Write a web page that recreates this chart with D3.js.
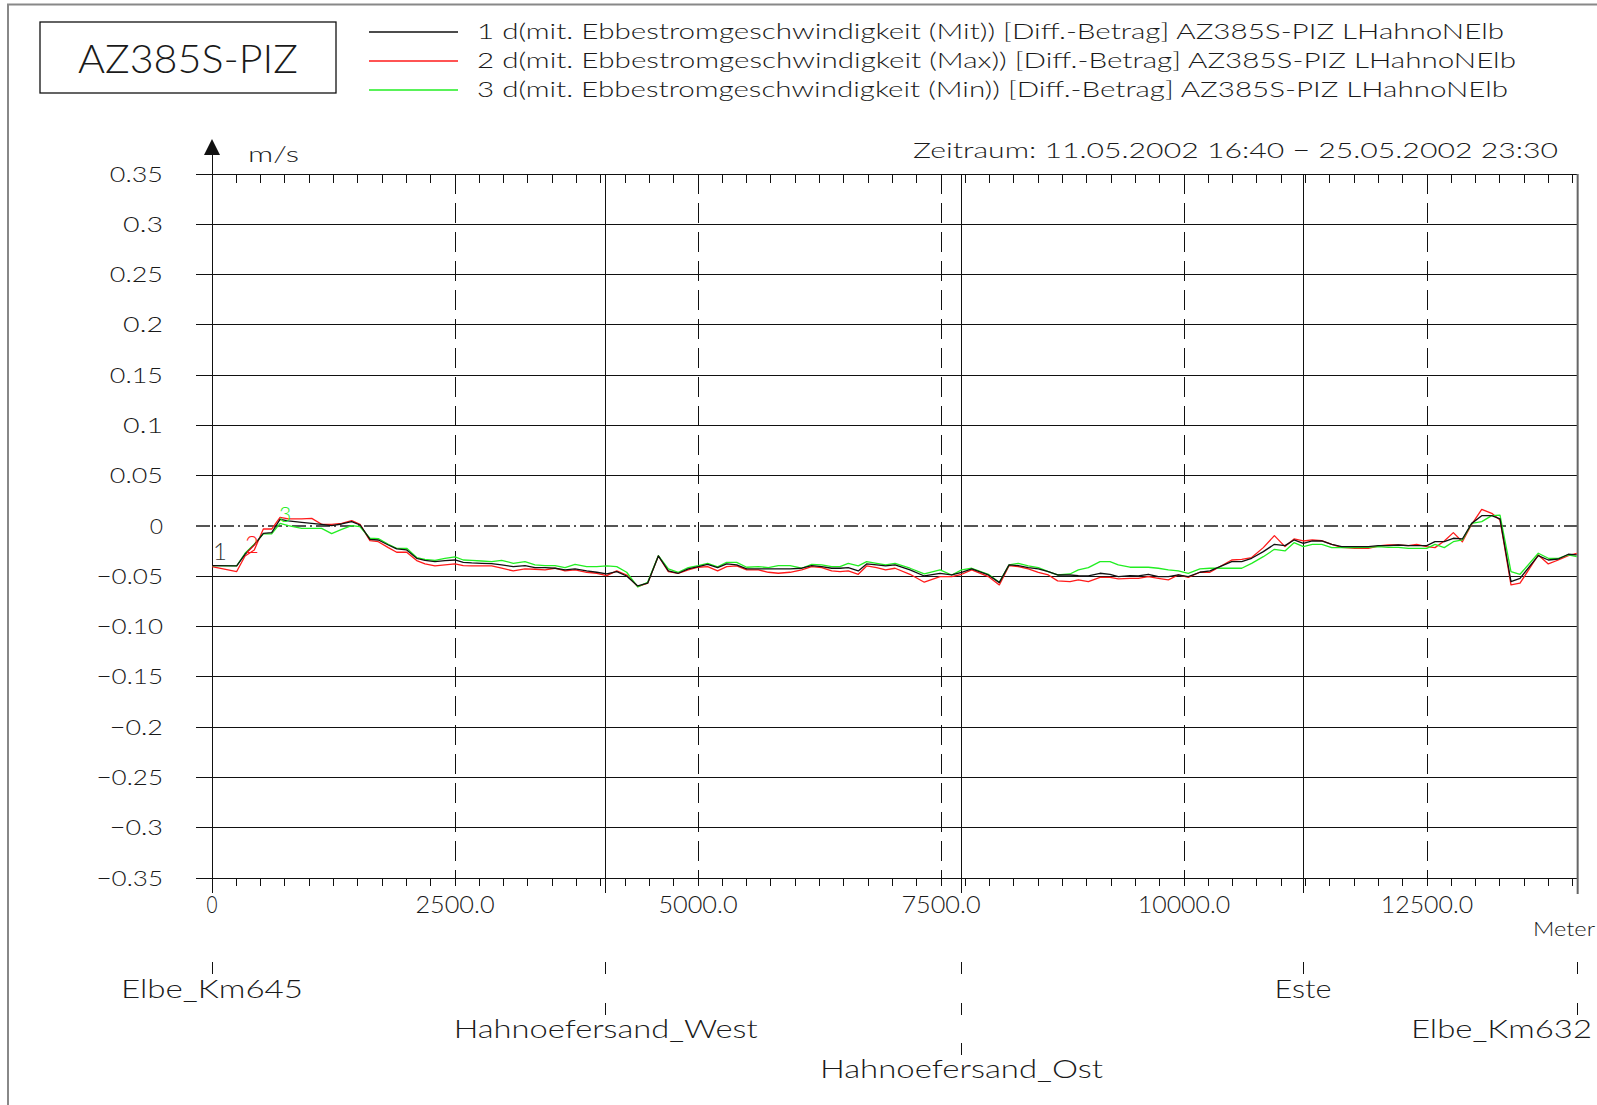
<!DOCTYPE html>
<html><head><meta charset="utf-8">
<script src="https://cdn.jsdelivr.net/npm/d3@7"></script>
<style>html,body{margin:0;padding:0;background:#fff;overflow:hidden}</style>
</head><body>
<svg id="c" width="1597" height="1105" xmlns="http://www.w3.org/2000/svg"></svg>
<script>
// ---------- data ----------
const distM = [0,254,340,435,528,614,700,785,923,1026,1128,1231,1334,1437,1523,1625,1711,1814,1900,2003,2106,2191,2294,2397,2500,2585,2672,2775,2877,2980,3100,3220,3323,
3426,3529,3632,3735,3855,3958,4061,4164,4266,4380,4482,4592,4695,4797,4900,5003,5099,5202,5295,5398,5501,5621,5724,5826,5947,6067,6170,6273,6375,6461,6546,6649,6735,6838,
6930,7027,7181,7328,7490,7610,7713,7816,7987,8100,8200,8295,8398,8501,8604,8700,8827,8913,9016,9136,9239,9324,9444,9530,9633,9736,9839,9941,10044,10164,10267,
10491,10594,10696,10816,10930,11039,11132,11228,11320,11417,11520,11622,11759,11896,11999,12102,12205,12308,12394,12497,12582,12678,12771,12864,12960,13063,13166,13251,13364,13457,13645,13748,13851,13954,14040];

const mitValues = [-0.0394,-0.0397,-0.0281,-0.0189,-0.0073,-0.0066,0.0066,0.0050,0.0036,0.0026,0.0017,0.0003,0.0020,0.0043,0.0010,-0.0132,-0.0139,-0.0189,-0.0228,-0.0238,-0.0321,-0.0341,-0.0354,-0.0344,-0.0338,-0.0361,-0.0367,-0.0371,-0.0374,-0.0387,-0.0404,-0.0394,-0.0414,
-0.0414,-0.0420,-0.0437,-0.0427,-0.0447,-0.0460,-0.0477,-0.0453,-0.0497,-0.0596,-0.0569,-0.0298,-0.0447,-0.0470,-0.0427,-0.0404,-0.0381,-0.0414,-0.0377,-0.0387,-0.0427,-0.0427,-0.0427,-0.0427,-0.0427,-0.0420,-0.0394,-0.0404,-0.0420,-0.0420,-0.0414,-0.0447,-0.0377,-0.0387,
-0.0397,-0.0387,-0.0437,-0.0497,-0.0470,-0.0487,-0.0460,-0.0427,-0.0487,-0.0563,-0.0387,-0.0394,-0.0414,-0.0427,-0.0453,-0.0487,-0.0487,-0.0493,-0.0497,-0.0470,-0.0480,-0.0503,-0.0493,-0.0497,-0.0480,-0.0503,-0.0503,-0.0487,-0.0503,-0.0460,-0.0447,
-0.0354,-0.0354,-0.0321,-0.0255,-0.0182,-0.0195,-0.0139,-0.0172,-0.0149,-0.0149,-0.0182,-0.0205,-0.0205,-0.0205,-0.0195,-0.0195,-0.0189,-0.0195,-0.0195,-0.0195,-0.0156,-0.0156,-0.0122,-0.0129,0.0026,0.0103,0.0103,0.0070,-0.0553,-0.0520,-0.0295,-0.0338,-0.0328,-0.0281,-0.0288];

const maxValues = [-0.0404,-0.0453,-0.0298,-0.0238,-0.0030,-0.0030,0.0086,0.0070,0.0070,0.0076,0.0017,0.0017,0.0026,0.0053,0.0017,-0.0146,-0.0156,-0.0215,-0.0261,-0.0261,-0.0344,-0.0377,-0.0397,-0.0387,-0.0377,-0.0394,-0.0397,-0.0397,-0.0397,-0.0420,-0.0447,-0.0427,-0.0430,
-0.0437,-0.0420,-0.0447,-0.0437,-0.0460,-0.0470,-0.0493,-0.0447,-0.0487,-0.0602,-0.0569,-0.0298,-0.0453,-0.0470,-0.0437,-0.0410,-0.0404,-0.0447,-0.0404,-0.0397,-0.0437,-0.0437,-0.0460,-0.0470,-0.0460,-0.0437,-0.0404,-0.0414,-0.0447,-0.0453,-0.0447,-0.0480,-0.0397,-0.0414,
-0.0437,-0.0420,-0.0480,-0.0559,-0.0503,-0.0503,-0.0480,-0.0437,-0.0503,-0.0586,-0.0394,-0.0404,-0.0427,-0.0460,-0.0487,-0.0546,-0.0553,-0.0536,-0.0553,-0.0510,-0.0510,-0.0526,-0.0520,-0.0520,-0.0503,-0.0520,-0.0536,-0.0487,-0.0510,-0.0460,-0.0460,
-0.0338,-0.0331,-0.0314,-0.0215,-0.0096,-0.0205,-0.0129,-0.0149,-0.0139,-0.0146,-0.0182,-0.0212,-0.0222,-0.0222,-0.0199,-0.0189,-0.0189,-0.0195,-0.0182,-0.0205,-0.0215,-0.0149,-0.0066,-0.0156,0.0017,0.0166,0.0126,0.0060,-0.0586,-0.0569,-0.0288,-0.0377,-0.0338,-0.0295,-0.0271];

const minValues = [-0.0394,-0.0397,-0.0271,-0.0182,-0.0079,-0.0079,0.0026,0.0003,-0.0023,-0.0023,-0.0023,-0.0076,-0.0033,0.0003,-0.0007,-0.0122,-0.0126,-0.0182,-0.0222,-0.0222,-0.0314,-0.0331,-0.0341,-0.0321,-0.0308,-0.0338,-0.0341,-0.0348,-0.0354,-0.0341,-0.0371,-0.0354,-0.0387,
-0.0394,-0.0394,-0.0414,-0.0381,-0.0404,-0.0404,-0.0397,-0.0404,-0.0460,-0.0606,-0.0559,-0.0295,-0.0427,-0.0460,-0.0414,-0.0394,-0.0371,-0.0407,-0.0361,-0.0361,-0.0410,-0.0404,-0.0414,-0.0394,-0.0394,-0.0420,-0.0381,-0.0387,-0.0404,-0.0404,-0.0371,-0.0397,-0.0354,-0.0371,
-0.0387,-0.0371,-0.0420,-0.0477,-0.0437,-0.0487,-0.0437,-0.0420,-0.0480,-0.0559,-0.0387,-0.0371,-0.0397,-0.0414,-0.0453,-0.0487,-0.0477,-0.0437,-0.0414,-0.0354,-0.0354,-0.0387,-0.0410,-0.0410,-0.0410,-0.0420,-0.0437,-0.0447,-0.0470,-0.0427,-0.0420,
-0.0420,-0.0420,-0.0371,-0.0305,-0.0232,-0.0248,-0.0166,-0.0205,-0.0182,-0.0182,-0.0215,-0.0215,-0.0215,-0.0212,-0.0205,-0.0212,-0.0212,-0.0222,-0.0222,-0.0222,-0.0182,-0.0215,-0.0156,-0.0139,0.0026,0.0043,0.0103,0.0109,-0.0453,-0.0480,-0.0271,-0.0321,-0.0321,-0.0288,-0.0305];

const yTickValues = [0.35,0.3,0.25,0.2,0.15,0.1,0.05,0,-0.05,-0.1,-0.15,-0.2,-0.25,-0.3,-0.35];
const yTickLabels = ["0.35","0.3","0.25","0.2","0.15","0.1","0.05","0","\u22120.05","\u22120.10","\u22120.15","\u22120.2","\u22120.25","\u22120.3","\u22120.35"];
const xTickValues = [0,2500,5000,7500,10000,12500];
const xTickLabels = ["0","2500.0","5000.0","7500.0","10000.0","12500.0"];
const stationNames = ["Elbe_Km645","Hahnoefersand_West","Hahnoefersand_Ost","Este","Elbe_Km632"];
const stationPos = [0,4050,7710,11225,14050];
const stationRow = [1,2,3,1,2];
const seriesNames = [
  "1 d(mit. Ebbestromgeschwindigkeit (Mit)) [Diff.-Betrag] AZ385S-PIZ LHahnoNElb",
  "2 d(mit. Ebbestromgeschwindigkeit (Max)) [Diff.-Betrag] AZ385S-PIZ LHahnoNElb",
  "3 d(mit. Ebbestromgeschwindigkeit (Min)) [Diff.-Betrag] AZ385S-PIZ LHahnoNElb"];
const seriesTags = ["1","2","3"];
const seriesColors = ["#111111","#ff1a1a","#22ee22"];
const titleText = "AZ385S-PIZ";
const periodText = "Zeitraum: 11.05.2002  16:40  \u2212  25.05.2002  23:30";
const unitY = "m/s";
const unitX = "Meter";
const xMax = 14050;

// ---------- layout ----------
const svg = d3.select("#c");
const FONT = "Lato, 'Open Sans', 'DejaVu Sans', sans-serif";
const x = d3.scaleLinear().domain([0, xMax]).range([212, 212 + xMax * 243 / 2500]);
const y = d3.scaleLinear().domain([-0.35, 0.35]).range([878, 174]);
const xL = x(0), xR = x(xMax), yT = y(0.35), yB = y(-0.35);

function txt(px, py, s, o) {
  o = o || {};
  const t = svg.append("text").attr("x", px).attr("y", py).text(s)
    .attr("font-family", FONT).attr("font-weight", o.weight || 300)
    .attr("font-size", o.size || 21).attr("fill", o.fill || "#1a1a1a")
    .attr("text-anchor", o.anchor || "start");
  if (o.width) t.attr("textLength", o.width).attr("lengthAdjust", "spacingAndGlyphs");
  return t;
}
function line(x1, y1, x2, y2, o) {
  o = o || {};
  const l = svg.append("line").attr("x1", x1).attr("y1", y1).attr("x2", x2).attr("y2", y2)
    .attr("stroke", o.stroke || "#111").attr("stroke-width", o.w || 1).attr("shape-rendering", o.crisp ? "crispEdges" : null);
  if (o.dash) l.attr("stroke-dasharray", o.dash);
  return l;
}

// outer frame
svg.append("path").attr("d", `M8,1105 L8,4.5 L1597,4.5`).attr("fill", "none").attr("stroke", "#888").attr("stroke-width", 2);

// title box
svg.append("rect").attr("x", 40).attr("y", 22).attr("width", 296).attr("height", 71)
  .attr("fill", "none").attr("stroke", "#111").attr("stroke-width", 1.3);
txt(188, 73, titleText, {size: 40, anchor: "middle", width: 220});

// legend
const legendY = [32, 61, 90];
seriesNames.forEach((n, i) => {
  line(369, legendY[i], 458, legendY[i], {stroke: seriesColors[i], w: 1.3});
  txt(477, legendY[i] + 7, n, {size: 21, width: [1027, 1039, 1031][i]});
});

// period
txt(1558, 157.5, periodText, {size: 21, anchor: "end", width: 645});

// horizontal grid
yTickValues.forEach((v, i) => {
  if (v === 0) {
    line(196, y(v), xR, y(v), {stroke: "#555", w: 1.2, dash: "14,4,2,4", crisp: true});
  } else {
    line(196, y(v), xR, y(v), {stroke: "#111", w: 1, crisp: true});
  }
  txt(163, y(v) + 7.5, yTickLabels[i], {size: 21, anchor: "end", width: yTickLabels[i].length * 13.3});
});

// minor ticks every 250 m
d3.range(250, xMax, 250).forEach(d => {
  line(x(d), yT, x(d), yT + 9, {crisp: true});
  line(x(d), yB, x(d), yB + 8, {crisp: true});
});

// dashed verticals at major ticks
xTickValues.forEach((d, i) => {
  if (d > 0) line(x(d), yT, x(d), yB + 8, {stroke: "#111", dash: "20,9", crisp: true});
  const lbl = xTickLabels[i];
  txt(x(d), 912.5, lbl, {size: 24, anchor: "middle", width: lbl.length === 1 ? 11 : lbl.length * 13.2});
});

// station verticals & bottom markers
stationPos.forEach((d, i) => {
  if (i > 0 && i < stationPos.length - 1) line(x(d), yT, x(d), 893, {crisp: true});
  for (let k = 0; k < stationRow[i]; k++) {
    line(x(d), 962 + 40.5 * k, x(d), 974 + 40.5 * k, {crisp: true});
  }
});
const stationW = [182, 304, 283, 57, 181];
stationNames.forEach((n, i) => {
  const last = i === stationNames.length - 1;
  txt(last ? 1592 : x(stationPos[i]), 997.5 + 40 * (stationRow[i] - 1), n,
      {size: 26, anchor: last ? "end" : "middle", width: stationW[i]});
});

// right border
line(xR, yT, xR, 894, {stroke: "#666", w: 2});

// y axis with arrow
line(xL, 150, xL, 893, {crisp: true});
svg.append("path").attr("d", `M${xL},139 L${xL - 8},155 L${xL + 8},155 Z`).attr("fill", "#111");
txt(248, 162, unitY, {size: 21, width: 51});
txt(1595, 936, unitX, {size: 20, anchor: "end", width: 62});

// series
const series = [mitValues, maxValues, minValues];
const lineGen = d3.line().x((d, i) => x(distM[i])).y(d => y(d));
[1, 2, 0].forEach(si => {
  svg.append("path").datum(series[si]).attr("d", lineGen)
    .attr("fill", "none").attr("stroke", seriesColors[si]).attr("stroke-width", 1.3)
    .attr("stroke-linejoin", "round");
});
// curve tags
txt(220, 560, seriesTags[0], {size: 24, anchor: "middle", fill: "#333"});
txt(252, 553, seriesTags[1], {size: 24, anchor: "middle", fill: seriesColors[1]});
txt(285, 522, seriesTags[2], {size: 21, anchor: "middle", fill: seriesColors[2]});
</script>
</body></html>
